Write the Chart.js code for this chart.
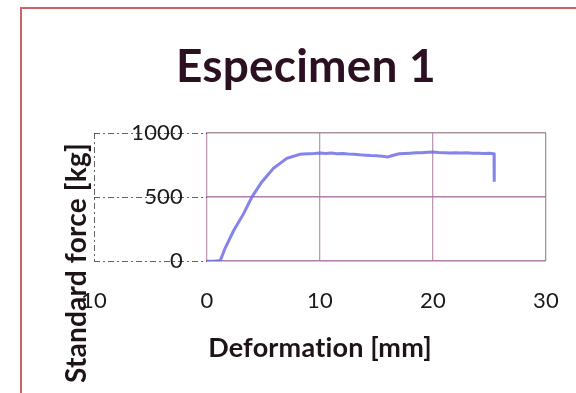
<!DOCTYPE html>
<html>
<head>
<meta charset="utf-8">
<script src="https://cdn.jsdelivr.net/npm/chart.js@4/dist/chart.umd.min.js"></script>
<style>
  html, body { margin: 0; padding: 0; background: #ffffff; }
  canvas { display: block; }
</style>
</head>
<body>
<canvas id="c" width="576" height="393"></canvas>
<script>
// Tensile test record, specimen 1
const deformation = [0, 0.6, 1.17, 1.62, 2.35, 3.23, 3.97, 4.85, 5.88, 7.06, 8.23, 8.5, 9, 9.5, 10, 10.5, 11, 11.5, 12, 12.5, 13, 13.5, 14, 14.5, 15, 15.5, 16, 16.5, 17, 17.5, 18, 18.5, 19, 19.5, 20, 20.5, 21, 21.5, 22, 22.5, 23, 23.5, 24, 24.5, 25, 25.4, 25.42];
const force = [0, 0, 5, 105, 237, 369, 500, 618, 724, 803, 834, 836, 838, 840, 843, 840, 843, 838, 841, 837, 835, 830, 827, 824, 822, 818, 813, 826, 838, 841, 843, 845, 846, 849, 852, 848, 846, 844, 846, 844, 845, 842, 843, 841, 842, 838, 620];

const xTickValues = [-10, 0, 10, 20, 30];
const xTickLabels = ['10', '0', '10', '20', '30'];
const yTickValues = [0, 500, 1000];

const chartTitle = 'Especimen 1';
const xTitle = 'Deformation [mm]';
const yTitle = 'Standard force [kg]';

const MAUVE = 'rgba(168,112,160,0.9)';
const LABEL_PAD = 38;

// Dash-dot guide lines in the negative strip, left of x = 0
const leftStrip = {
  id: 'leftStrip',
  beforeDatasetsDraw(chart) {
    const {ctx, chartArea, scales: {x, y}} = chart;
    const x0 = x.getPixelForValue(-10);
    const x1 = x.getPixelForValue(0);
    ctx.save();
    ctx.fillStyle = '#ffffff';
    ctx.fillRect(x0 - 2, chartArea.top - 2, x1 - x0 + 1, chartArea.bottom - chartArea.top + 4);
    ctx.strokeStyle = 'rgba(70,70,70,0.85)';
    ctx.lineWidth = 1;
    ctx.setLineDash([6, 3, 2, 3]);
    yTickValues.forEach(v => {
      const py = Math.round(y.getPixelForValue(v)) + 0.5;
      ctx.beginPath();
      ctx.moveTo(x0, py);
      ctx.lineTo(x1, py);
      ctx.stroke();
    });
    ctx.beginPath();
    ctx.moveTo(Math.round(x0) + 0.5, chartArea.top);
    ctx.lineTo(Math.round(x0) + 0.5, chartArea.bottom);
    ctx.stroke();
    ctx.restore();
  }
};

// Frame, heading and rotated y title
const decorations = {
  id: 'decorations',
  beforeDraw(chart) {
    const {ctx, width, height} = chart;
    // a tiny letter spacing keeps "ti" from turning into a ligature
    ctx.letterSpacing = '0.2px';
    ctx.save();
    ctx.fillStyle = '#ffffff';
    ctx.fillRect(0, 0, width, height);
    ctx.restore();
  },
  afterDraw(chart) {
    const {ctx, width, height} = chart;
    ctx.save();
    ctx.strokeStyle = 'rgb(205,100,100)';
    ctx.lineWidth = 2;
    ctx.beginPath();
    ctx.moveTo(21, height);
    ctx.lineTo(21, 8);
    ctx.lineTo(width, 8);
    ctx.stroke();

    ctx.fillStyle = '#2a1020';
    ctx.font = 'bold 46px Lato';
    ctx.textAlign = 'center';
    ctx.textBaseline = 'alphabetic';
    ctx.fillText(chartTitle, 306, 82);

    ctx.translate(86, 263);
    ctx.rotate(-Math.PI / 2);
    ctx.fillStyle = '#1e1418';
    ctx.font = 'bold 28px Lato';
    ctx.fillText(yTitle, 0, 0);
    ctx.restore();
  }
};

new Chart(document.getElementById('c'), {
  type: 'scatter',
  data: {
    datasets: [{
      data: deformation.map((d, i) => ({x: d, y: force[i]})),
      showLine: true,
      borderColor: 'rgba(110,110,232,0.85)',
      borderWidth: 3,
      pointRadius: 0,
      tension: 0
    }]
  },
  options: {
    responsive: false,
    animation: false,
    devicePixelRatio: 1,
    layout: { padding: { left: 94 - 2 * LABEL_PAD, right: 30, top: 133, bottom: 29 } },
    plugins: { legend: { display: false }, tooltip: { enabled: false } },
    scales: {
      x: {
        type: 'linear',
        min: -10,
        max: 30,
        afterBuildTicks: axis => { axis.ticks = xTickValues.map(v => ({value: v})); },
        ticks: {
          callback: (v, i) => xTickLabels[i],
          font: { family: 'Lato', size: 22 },
          color: '#1a1a1a',
          padding: 4,
          maxRotation: 0,
          z: 1
        },
        grid: {
          drawTicks: true,
          tickLength: 23,
          tickColor: 'rgba(0,0,0,0)',
          lineWidth: 1.3,
          color: ctx => {
            const v = ctx.tick && ctx.tick.value;
            if (v === -10) return 'rgba(0,0,0,0)';
            if (v === 30) return 'rgba(150,140,145,0.9)';
            return 'rgba(168,120,160,0.75)';
          }
        },
        border: { display: false },
        title: {
          display: true,
          text: xTitle,
          font: { family: 'Lato', size: 27, weight: 'bold' },
          color: '#1e1418',
          padding: { top: 13, bottom: 0 }
        }
      },
      y: {
        min: 0,
        max: 1000,
        afterBuildTicks: axis => { axis.ticks = yTickValues.map(v => ({value: v})); },
        ticks: {
          mirror: true,
          crossAlign: 'far',
          padding: LABEL_PAD,
          callback: v => String(v),
          font: { family: 'Lato', size: 22 },
          color: '#1a1a1a',
          z: 1
        },
        grid: {
          drawTicks: false,
          lineWidth: 1.5,
          color: ctx => (ctx.tick && ctx.tick.value === 1000) ? 'rgba(160,135,150,0.9)' : MAUVE
        },
        border: { display: false }
      }
    }
  },
  plugins: [leftStrip, decorations]
});
</script>
</body>
</html>
